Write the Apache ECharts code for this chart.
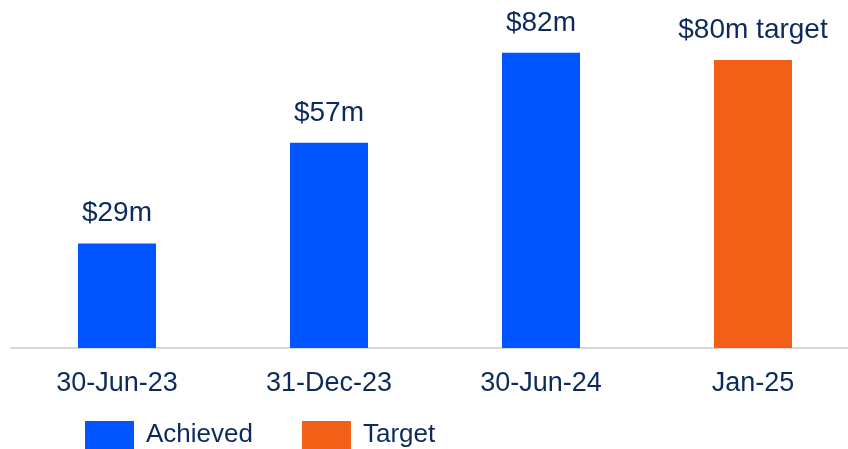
<!DOCTYPE html>
<html>
<head>
<meta charset="utf-8">
<script src="https://cdn.jsdelivr.net/npm/echarts@6/dist/echarts.min.js"></script>
<style>
html,body{margin:0;padding:0;background:#fff;overflow:hidden;width:848px;height:449px;}
#chart{width:870px;height:449px;}
</style>
</head>
<body>
<div id="chart"></div>
<script>
var categories = ['30-Jun-23', '31-Dec-23', '30-Jun-24', 'Jan-25'];
var achieved = [29, 57, 82, null];
var target = [null, null, null, 80];
var achievedLabels = ['$29m', '$57m', '$82m', ''];
var targetLabels = ['', '', '', '$80m target'];

var navy = '#0c2b5c';
var font = 'Liberation Sans, Arial, sans-serif';

var chart = echarts.init(document.getElementById('chart'));
chart.setOption({
  animation: false,
  grid: { left: 11, width: 848, top: 6, bottom: 101, containLabel: false },
  legend: {
    left: 80, top: 416,
    itemWidth: 49, itemHeight: 28, itemGap: 49,
    icon: 'rect',
    textStyle: { color: navy, fontSize: 26, fontFamily: font, padding: [2, 0, 0, 7] },
    data: ['Achieved', 'Target']
  },
  xAxis: {
    type: 'category',
    data: categories,
    axisLine: { lineStyle: { color: '#d9d9d9', width: 2 } },
    axisTick: { show: false },
    axisLabel: { color: navy, fontSize: 27, fontFamily: font, margin: 22 }
  },
  yAxis: { type: 'value', min: 0, max: 95, show: false, splitLine: { show: false } },
  series: [
    {
      name: 'Achieved', type: 'bar', data: achieved, barWidth: 78, barGap: '-100%',
      itemStyle: { color: '#0055ff' },
      label: {
        show: true, position: 'top', distance: 16, color: navy, fontSize: 28, fontFamily: font,
        formatter: function (p) { return achievedLabels[p.dataIndex]; }
      }
    },
    {
      name: 'Target', type: 'bar', data: target, barWidth: 78, barGap: '-100%',
      itemStyle: { color: '#f25f17' },
      label: {
        show: true, position: 'top', distance: 16, color: navy, fontSize: 28, fontFamily: font,
        formatter: function (p) { return targetLabels[p.dataIndex]; }
      }
    }
  ]
});
</script>
</body>
</html>
